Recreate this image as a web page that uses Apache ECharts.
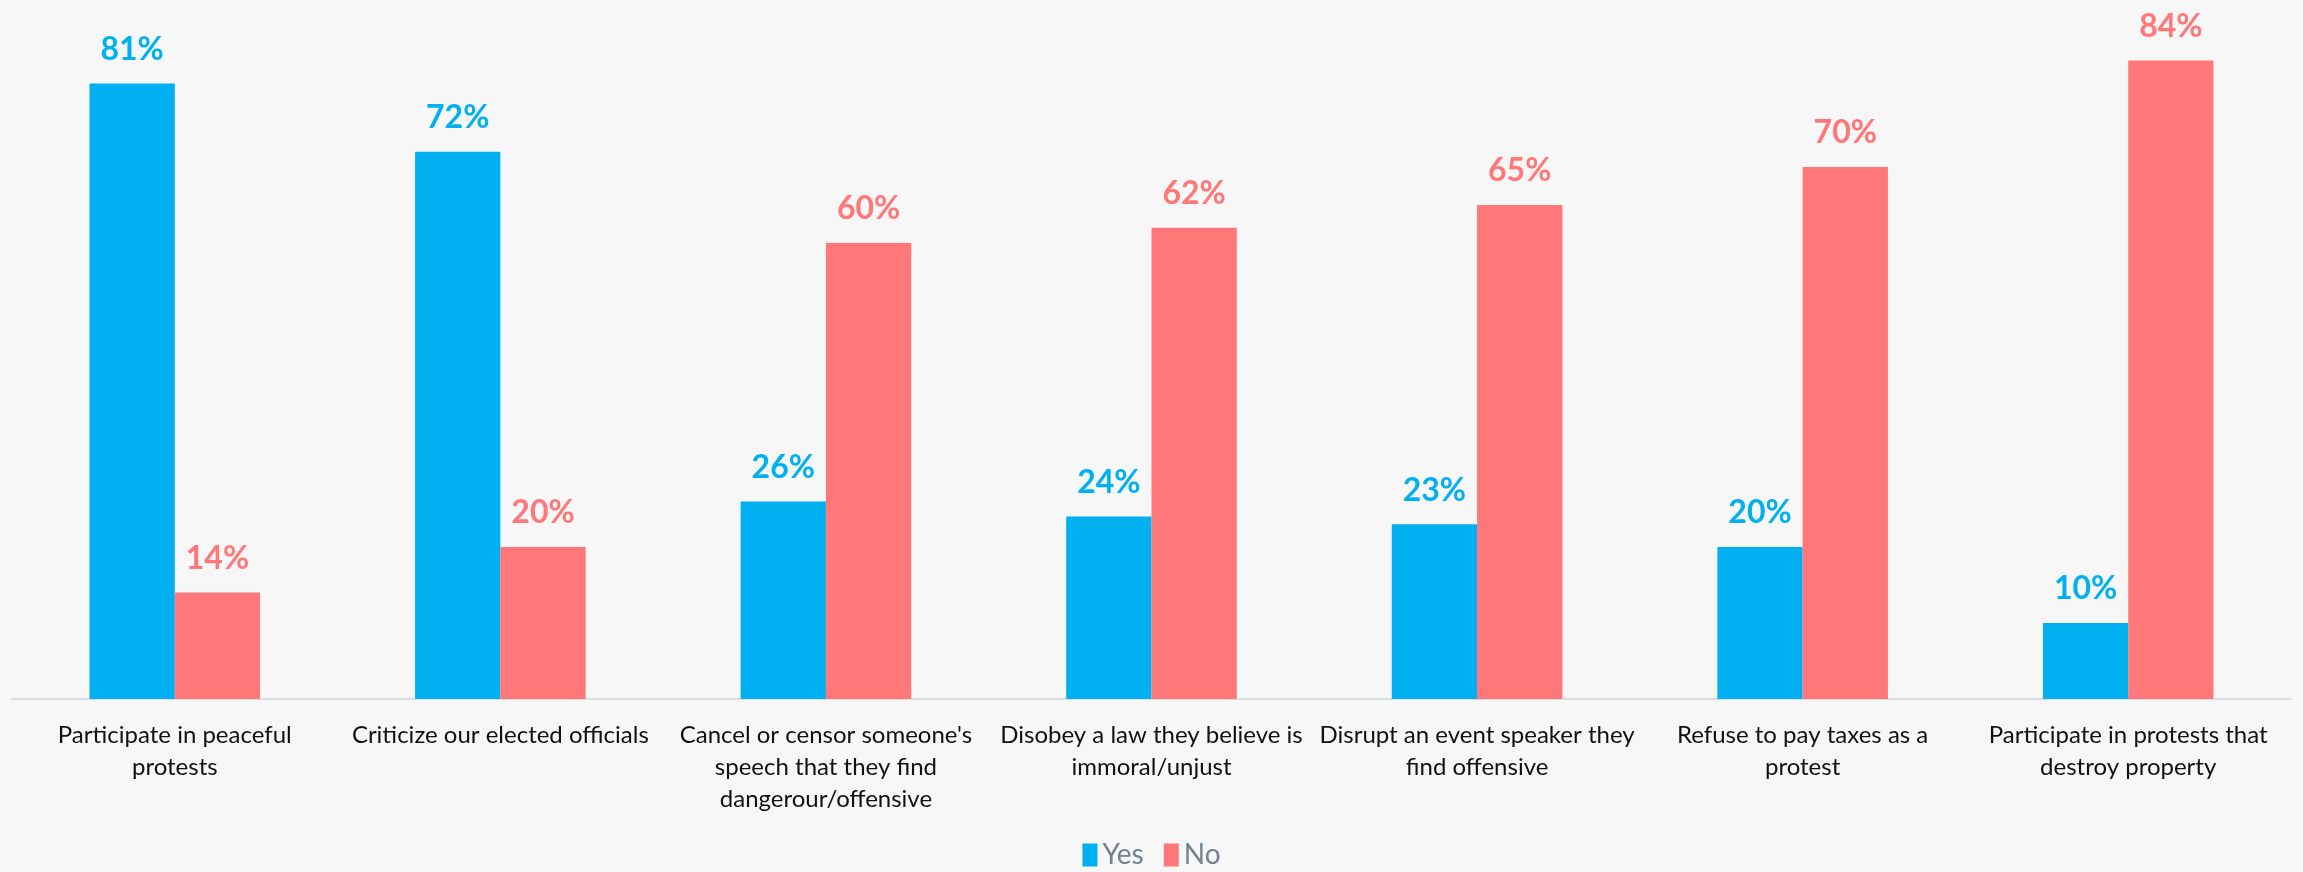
<!DOCTYPE html>
<html><head><meta charset="utf-8">
<script src="https://cdn.jsdelivr.net/npm/echarts@6/dist/echarts.min.js"></script>
<style>html,body{margin:0;padding:0;background:#F7F7F7}#c{width:2303px;height:872px}</style>
</head><body><div id="c"></div>
<script>
const categories = [
  "Participate in peaceful\nprotests",
  "Criticize our elected officials",
  "Cancel or censor someone's\nspeech that they find\ndangerour/offensive",
  "Disobey a law they believe is\nimmoral/unjust",
  "Disrupt an event speaker they\nfind offensive",
  "Refuse to pay taxes as a\nprotest",
  "Participate in protests that\ndestroy property"
];
const yesValues = [81, 72, 26, 24, 23, 20, 10];
const noValues = [14, 20, 60, 62, 65, 70, 84];
const seriesNames = ["Yes", "No"];
const colors = ["#00B0F0", "#FF7778"];

const chart = echarts.init(document.getElementById('c'));
const lbl = (c) => ({show: true, position: 'top', distance: 18, formatter: '{c}%', color: c,
  fontFamily: 'Lato', fontWeight: 'bold', fontSize: 32});
chart.setOption({
  backgroundColor: '#F7F7F7',
  animation: false,
  grid: {left: 12, right: 12, top: 15, bottom: 173, containLabel: false},
  legend: {bottom: -2, left: 'center', itemWidth: 15, itemHeight: 23, itemGap: 20,
    icon: 'rect',
    textStyle: {color: '#738190', fontFamily: 'Lato', fontSize: 28},
    data: seriesNames},
  xAxis: {type: 'category', data: categories,
    axisLine: {lineStyle: {color: '#D9DEE4', width: 2}},
    axisTick: {show: false},
    axisLabel: {interval: 0, color: '#111', fontFamily: 'Lato', fontSize: 24, lineHeight: 32, margin: 20}},
  yAxis: {type: 'value', min: 0, max: 90, show: false, splitLine: {show: false}},
  series: [
    {name: seriesNames[0], type: 'bar', data: yesValues, barGap: '0%', barCategoryGap: '47.6%',
      itemStyle: {color: colors[0]}, label: lbl(colors[0])},
    {name: seriesNames[1], type: 'bar', data: noValues,
      itemStyle: {color: colors[1]}, label: lbl(colors[1])}
  ]
});
</script></body></html>
